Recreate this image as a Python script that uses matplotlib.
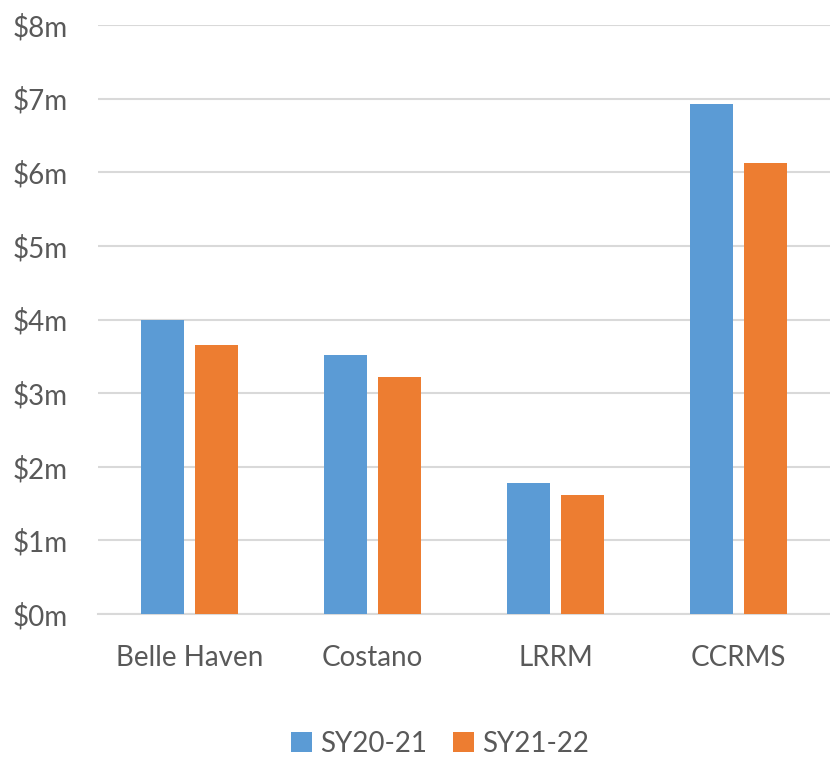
import numpy as np
import matplotlib
matplotlib.use("Agg")
from matplotlib import pyplot as plt

# spending per school, in millions of dollars
schools = ["Belle Haven", "Costano", "LRRM", "CCRMS"]
sy2021 = [4.0, 3.52, 1.78, 6.93]
sy2122 = [3.65, 3.22, 1.61, 6.13]
yticks = [0, 1, 2, 3, 4, 5, 6, 7, 8]

blue = "#5b9bd5"
orange = "#ed7d31"
grey_txt = "#595959"

plt.rcParams["font.family"] = ["Lato", "DejaVu Sans"]

fig = plt.figure(figsize=(8.3, 7.6), dpi=100)
ax = fig.add_axes([98/830, 1-614/760, 1-98/830, (614-25)/760])

x = np.arange(len(schools))
w = 0.235
ax.bar(x - 0.15, sy2021, w, color=blue, label="SY20-21", zorder=3)
ax.bar(x + 0.15, sy2122, w, color=orange, label="SY21-22", zorder=3)

ax.set_xlim(-0.5, len(schools) - 0.5)
ax.set_ylim(0, 8)
ax.set_yticks(yticks)
ax.set_yticklabels(["$%dm" % v for v in yticks])
ax.set_xticks(x)
ax.set_xticklabels(schools)
ax.yaxis.grid(True, color="#d9d9d9", linewidth=1.5, zorder=0)
for s in ["top", "right", "left"]:
    ax.spines[s].set_visible(False)
ax.spines["bottom"].set_color("#d9d9d9")
ax.spines["bottom"].set_linewidth(1.5)
ax.tick_params(axis="both", length=0, labelsize=20, colors=grey_txt)
ax.tick_params(axis="x", pad=22)
ax.tick_params(axis="y", pad=22)

leg = fig.legend(loc="center", bbox_to_anchor=(440/830, 1-744/760), ncol=2, frameon=False,
                 fontsize=20, labelcolor=grey_txt, handlelength=0.75, handleheight=0.75,
                 handletextpad=0.3, columnspacing=0.95, borderpad=0.1)

fig.savefig("out.png", dpi=100)
